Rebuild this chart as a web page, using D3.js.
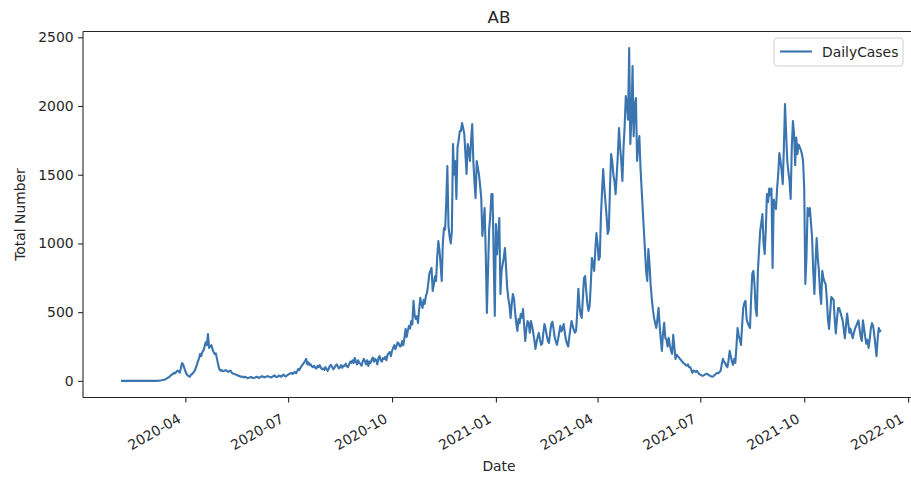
<!DOCTYPE html>
<html>
<head>
<meta charset="utf-8">
<script src="https://cdn.jsdelivr.net/npm/d3@7"></script>
<style>
  body { margin: 0; background: #fff; }
  text { font-family: "DejaVu Sans", sans-serif; fill: #262626; }
</style>
</head>
<body>
<div id="chart"></div>
<script>
// Daily cases for AB, one array per month (first day 2020-02-04)
const startDate = new Date(2020, 1, 4);
const feb2020 = [0,0,0,0,0,0,0,0,0,0,0,0,0,0,0,0,0,0,0,0,0,0,0,0,0,0];
const mar2020 = [0,0,0,0,0,0,0,1,2,3,4,6,8,10,15,20,25,30,40,45,50,60,55,65,75,70,60,90,130,120,95];
const apr2020 = [70,50,40,35,30,45,50,60,70,90,110,140,160,195,180,210,220,250,280,260,340,240,250,260,230,210,195,200,160,120];
const may2020 = [87,75,80,70,72,75,78,70,65,72,75,60,55,50,48,45,40,38,35,30,32,28,25,30,25,20,22,25,28,24,20];
const jun2020 = [22,25,30,28,20,25,30,35,28,25,30,32,35,30,28,25,30,35,40,30,28,32,38,35,30,40,45,35,32,40];
const jul2020 = [45,50,55,58,50,60,65,55,70,87,80,95,110,120,131,145,160,120,135,115,120,105,100,110,95,90,109,100,115,95,85];
const aug2020 = [90,80,100,85,73,90,110,116,100,85,95,110,120,105,90,100,115,95,110,109,125,105,100,120,140,131,150,130,167,140,120];
const sep2020 = [150,130,125,110,140,160,145,120,150,109,140,130,155,170,140,160,150,120,167,180,150,140,165,160,175,150,190,200,210,180];
const oct2020 = [218,240,260,230,254,280,270,250,254,290,260,313,378,320,364,400,380,436,410,582,480,450,470,422,520,604,560,531,590,560,618];
const nov2020 = [640,700,778,800,822,654,700,760,727,900,1018,950,850,727,1000,1112,1100,1300,1563,1127,1050,1000,1090,1723,1500,1600,1323,1700,1750,1818];
const dec2020 = [1818,1876,1840,1795,1650,1505,1723,1680,1600,1750,1868,1600,1450,1330,1600,1550,1500,1420,1330,1054,1150,1258,923,494,800,1100,1200,1360,1360,900,473];
const jan2021 = [1141,920,1050,1185,632,800,850,900,967,820,676,600,550,458,560,632,600,500,420,364,450,420,487,460,523,400,291,380,436,420,350];
const feb2021 = [436,400,350,300,233,280,320,349,300,262,270,350,414,380,330,290,276,350,414,430,380,320,290,262,300,350,400,360];
const mar2021 = [380,414,350,300,270,250,320,380,436,400,370,350,364,500,669,550,480,458,600,749,763,650,560,509,545,700,894,850,800,950,1076];
const apr2021 = [1000,880,900,1200,1381,1541,1400,1300,1200,1069,1100,1400,1650,1600,1500,1450,1359,1500,1650,1839,1700,1600,1454,1700,1850,2072,2020,1900,2421,1723];
const may2021 = [1900,2290,1780,2000,2057,1600,1700,1782,1555,1400,1250,1100,950,800,727,960,850,700,600,520,460,420,385,450,531,400,300,218,350,422,313];
const jun2021 = [300,250,313,260,220,196,335,250,160,190,180,170,160,150,140,130,124,115,110,120,100,100,80,58,75,70,65,73,60,50];
const jul2021 = [45,40,36,40,45,50,51,45,40,35,32,30,38,45,52,58,55,65,73,120,160,140,130,110,100,150,218,180,140,116,160];
const aug2021 = [131,250,385,330,300,262,400,531,567,582,450,420,400,385,600,778,800,700,524,473,800,950,1090,1150,1214,1000,923,1100,1359,1300,1400];
const sep2021 = [1350,1400,822,1320,1280,1250,1400,1505,1658,1600,1530,1432,1700,2014,1800,1600,1520,1455,1323,1700,1890,1800,1570,1770,1650,1720,1700,1680,1650,1600];
const oct2021 = [1400,705,900,1258,1200,1258,1150,1040,800,632,850,1040,900,800,650,560,800,750,720,705,600,450,378,500,610,600,590,450,345,450,530];
const nov2021 = [530,500,470,440,380,310,400,490,420,350,380,340,310,350,380,400,420,440,380,320,290,440,380,320,270,300,240,300,380,420];
const dec2021 = [400,340,260,180,300,385,360,370];

const yTicks = [0, 500, 1000, 1500, 2000, 2500];
const seriesName = "DailyCases";

const dailyCases = [].concat(feb2020, mar2020, apr2020, may2020, jun2020, jul2020,
  aug2020, sep2020, oct2020, nov2020, dec2020, jan2021, feb2021, mar2021, apr2021,
  may2021, jun2021, jul2021, aug2021, sep2021, oct2021, nov2021, dec2021);

const data = dailyCases.map((v, i) => ({ date: d3.timeDay.offset(startDate, i), value: v }));

// Figure and axes box (the right spine falls just past the picture edge)
const W = 911, H = 479;
const box = { left: 83, right: 919, top: 31.5, bottom: 397.5 };

const svg = d3.select("#chart")
  .append("svg")
  .attr("width", W)
  .attr("height", H);

// matplotlib style 5% margins on both axes
const [t0, t1] = d3.extent(data, d => d.date);
const tPad = (t1 - t0) * 0.05;
const x = d3.scaleTime()
  .domain([new Date(+t0 - tPad), new Date(+t1 + tPad)])
  .range([box.left, box.right]);

const [v0, v1] = d3.extent(data, d => d.value);
const vPad = (v1 - v0) * 0.05;
const y = d3.scaleLinear()
  .domain([v0 - vPad, v1 + vPad])
  .range([box.bottom, box.top]);

// Line
svg.append("path")
  .datum(data)
  .attr("fill", "none")
  .attr("stroke", "#3a75b0")
  .attr("stroke-width", 2.1)
  .attr("stroke-linejoin", "round")
  .attr("d", d3.line().x(d => x(d.date)).y(d => y(d.value)));

// Spines
const spine = { stroke: "#262626", width: 1.1 };
svg.append("line").attr("x1", box.left).attr("x2", box.left).attr("y1", box.top).attr("y2", box.bottom)
  .attr("stroke", spine.stroke).attr("stroke-width", spine.width);
svg.append("line").attr("x1", box.left).attr("x2", box.right).attr("y1", box.bottom).attr("y2", box.bottom)
  .attr("stroke", spine.stroke).attr("stroke-width", spine.width);
svg.append("line").attr("x1", box.left).attr("x2", box.right).attr("y1", box.top).attr("y2", box.top)
  .attr("stroke", spine.stroke).attr("stroke-width", spine.width);
svg.append("line").attr("x1", box.right).attr("x2", box.right).attr("y1", box.top).attr("y2", box.bottom)
  .attr("stroke", spine.stroke).attr("stroke-width", spine.width);

// Y axis
const yAxis = svg.append("g")
  .attr("transform", `translate(${box.left},0)`)
  .call(d3.axisLeft(y).tickValues(yTicks).tickSize(4.9).tickPadding(4.5).tickFormat(d3.format("d")));
yAxis.select(".domain").remove();
yAxis.selectAll("line").attr("stroke", "#262626").attr("stroke-width", 1.1);
yAxis.selectAll("text").style("font-size", "13.9px").style("font-family", "DejaVu Sans").attr("fill", "#262626");

// X axis, rotated labels like autofmt_xdate
const xAxis = svg.append("g")
  .attr("transform", `translate(0,${box.bottom})`)
  .call(d3.axisBottom(x).ticks(d3.timeMonth.every(3)).tickSize(4.9).tickFormat(d3.timeFormat("%Y-%m")));
xAxis.select(".domain").remove();
xAxis.selectAll("line").attr("stroke", "#262626").attr("stroke-width", 1.1);
xAxis.selectAll("text")
  .style("font-size", "13.9px")
  .style("font-family", "DejaVu Sans")
  .attr("fill", "#262626")
  .attr("y", 0).attr("dy", 0)
  .attr("text-anchor", "end")
  .attr("transform", "translate(-4,24) rotate(-30)");

// Axis labels and title
svg.append("text")
  .attr("x", (box.left + box.right) / 2 - 2)
  .attr("y", 471)
  .attr("text-anchor", "middle")
  .style("font-size", "13.9px")
  .text("Date");

svg.append("text")
  .attr("transform", `translate(25,${(box.top + box.bottom) / 2}) rotate(-90)`)
  .attr("text-anchor", "middle")
  .style("font-size", "13.9px")
  .text("Total Number");

svg.append("text")
  .attr("x", (box.left + box.right) / 2 - 2)
  .attr("y", 23)
  .attr("text-anchor", "middle")
  .style("font-size", "16.7px")
  .text("AB");

// Legend
const legend = svg.append("g").attr("transform", `translate(774,${box.top + 6.5})`);
legend.append("rect")
  .attr("width", 129).attr("height", 28).attr("rx", 3)
  .attr("fill", "#fff").attr("fill-opacity", 0.8)
  .attr("stroke", "#d0d0d0").attr("stroke-width", 1);
legend.append("line")
  .attr("x1", 6).attr("x2", 38).attr("y1", 13.5).attr("y2", 13.5)
  .attr("stroke", "#3a75b0").attr("stroke-width", 2.1);
legend.append("text")
  .attr("x", 48).attr("y", 18.5)
  .style("font-size", "13.9px")
  .text(seriesName);
</script>
</body>
</html>
